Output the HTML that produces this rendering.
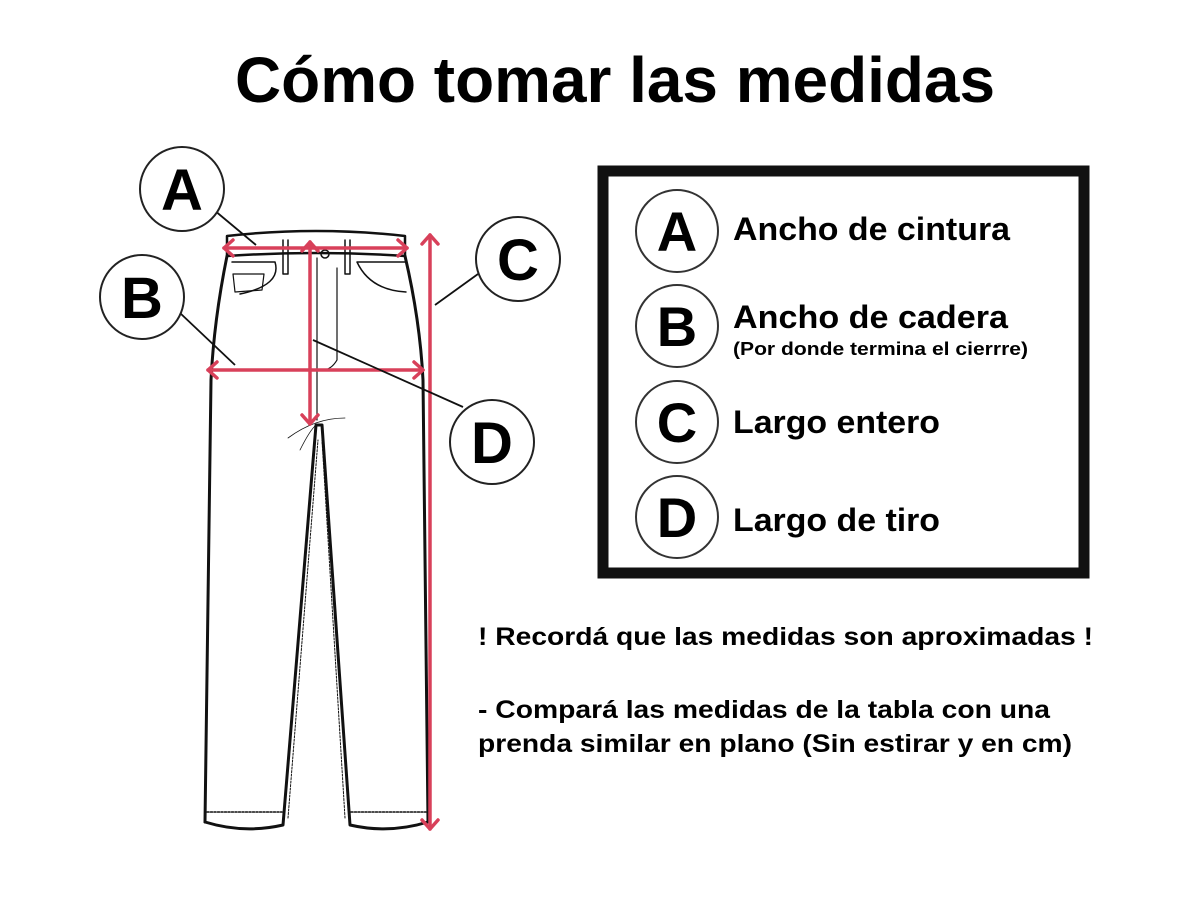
<!DOCTYPE html>
<html><head><meta charset="utf-8"><style>
html,body{margin:0;padding:0;background:#fff;}
svg{display:block;}
text{font-family:"Liberation Sans",Arial,sans-serif;font-weight:bold;fill:#000;}
</style></head><body>
<svg width="1179" height="915" viewBox="0 0 1179 915" xmlns="http://www.w3.org/2000/svg">
<text x="235" y="102" font-size="64" textLength="760" lengthAdjust="spacingAndGlyphs">Cómo tomar las medidas</text>

<!-- pants -->
<g fill="none" stroke="#111" stroke-linecap="round" stroke-linejoin="round">
  <path d="M227 236 Q316 226 405 236 L405 256 Q316 250 227 256 Z" stroke-width="2.5"/>
  <path d="M227 256 Q214 320 211 380 L205 822" stroke-width="3"/>
  <path d="M405 256 Q420 320 423 380 L428 822" stroke-width="3"/>
  <path d="M205 822 Q244 834 283 825 L316 425 L322 425 L350 825 Q389 834 428 822" stroke-width="3"/>
  <path d="M207 812 L282 812 M351 812 L426 812" stroke-width="1.5" stroke-dasharray="2 1.5"/>
  <path d="M288 818 L318 440 M345 818 L322 440" stroke-width="1" stroke-dasharray="2 1.5"/>
  <path d="M283 240 L283 274 L288 274 L288 240 M345 240 L345 274 L350 274 L350 240" stroke-width="1.5"/>
  <path d="M232 262 L275 262 Q282 285 240 294" stroke-width="1.5"/>
  <path d="M233 274 L264 274 L262 290 L235 292 Z" stroke-width="1.2"/>
  <path d="M406 292 Q370 290 357 262 L405 262" stroke-width="1.5"/>
  <path d="M317 258 L317 420 M337 268 L337 360 Q330 372 318 370" stroke-width="1.2"/>
  <circle cx="325" cy="254" r="4" stroke-width="1.5"/>
  <path d="M288 438 Q315 418 345 418 M300 450 Q310 430 316 425" stroke-width="0.8"/>
</g>

<!-- red measurement lines -->
<g stroke="#d8405a" stroke-width="3.5" fill="none" stroke-linecap="round" stroke-linejoin="round">
  <line x1="224" y1="248" x2="407" y2="248"/>
  <path d="M233 240 L224 248 L233 256 M398 240 L407 248 L398 256"/>
  <line x1="208" y1="370" x2="423" y2="370"/>
  <path d="M217 362 L208 370 L217 378 M414 362 L423 370 L414 378"/>
  <line x1="310" y1="242" x2="310" y2="424"/>
  <path d="M302 251 L310 242 L318 251 M302 415 L310 424 L318 415"/>
  <line x1="430" y1="235" x2="430" y2="829"/>
  <path d="M422 244 L430 235 L438 244 M422 820 L430 829 L438 820"/>
</g>

<!-- leader lines -->
<g stroke="#111" stroke-width="1.8">
  <line x1="214" y1="210" x2="256" y2="245"/>
  <line x1="180" y1="313" x2="235" y2="365"/>
  <line x1="478" y1="274" x2="435" y2="305"/>
  <line x1="313" y1="340" x2="463" y2="407"/>
</g>

<!-- circles on left -->
<g fill="#fff" stroke="#222" stroke-width="2">
  <circle cx="182" cy="189" r="42"/>
  <circle cx="142" cy="297" r="42"/>
  <circle cx="518" cy="259" r="42"/>
  <circle cx="492" cy="442" r="42"/>
</g>
<g font-size="58" text-anchor="middle">
  <text x="182" y="210">A</text>
  <text x="142" y="318">B</text>
  <text x="518" y="280">C</text>
  <text x="492" y="463">D</text>
</g>

<!-- legend box -->
<rect x="603" y="171" width="481" height="402" fill="none" stroke="#111" stroke-width="11"/>
<g fill="#fff" stroke="#333" stroke-width="2">
  <circle cx="677" cy="231" r="41"/>
  <circle cx="677" cy="326" r="41"/>
  <circle cx="677" cy="422" r="41"/>
  <circle cx="677" cy="517" r="41"/>
</g>
<g font-size="56" text-anchor="middle">
  <text x="677" y="251">A</text>
  <text x="677" y="346">B</text>
  <text x="677" y="442">C</text>
  <text x="677" y="537">D</text>
</g>
<g font-size="32" lengthAdjust="spacingAndGlyphs">
  <text x="733" y="240" textLength="277" lengthAdjust="spacingAndGlyphs">Ancho de cintura</text>
  <text x="733" y="328" textLength="275" lengthAdjust="spacingAndGlyphs">Ancho de cadera</text>
  <text x="733" y="433" textLength="207" lengthAdjust="spacingAndGlyphs">Largo entero</text>
  <text x="733" y="531" textLength="207" lengthAdjust="spacingAndGlyphs">Largo de tiro</text>
</g>
<text x="733" y="355" font-size="18" textLength="295" lengthAdjust="spacingAndGlyphs">(Por donde termina el cierrre)</text>

<g font-size="25">
  <text x="478" y="645" textLength="615" lengthAdjust="spacingAndGlyphs">! Recordá que las medidas son aproximadas !</text>
  <text x="478" y="718" textLength="572" lengthAdjust="spacingAndGlyphs">- Compará las medidas de la tabla con una</text>
  <text x="478" y="752" textLength="594" lengthAdjust="spacingAndGlyphs">prenda similar en plano (Sin estirar y en cm)</text>
</g>
</svg>
</body></html>
